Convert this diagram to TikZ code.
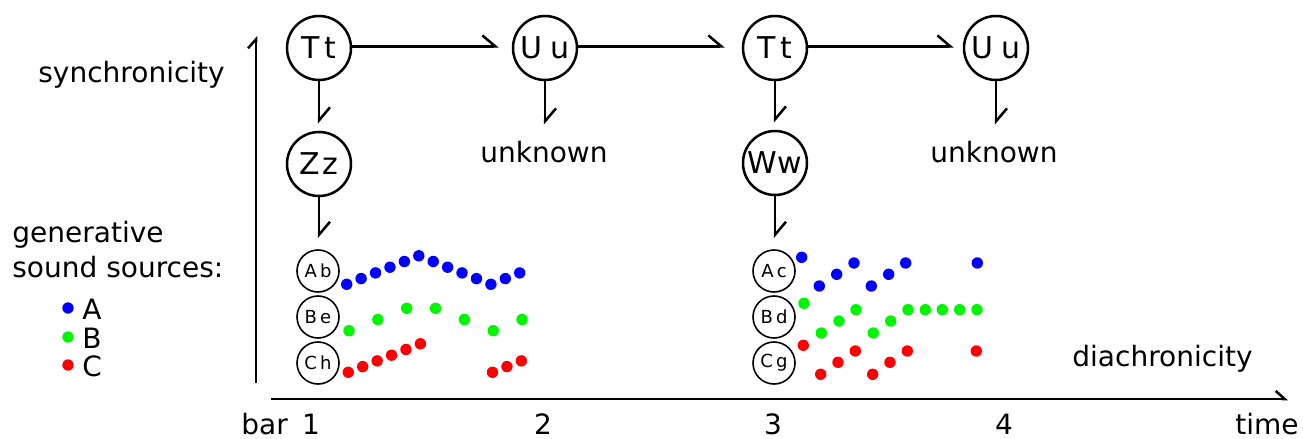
\documentclass[tikz,border=0pt]{standalone}
\usepackage{fontspec}
\setmainfont{DejaVu Sans}
\usetikzlibrary{arrows.meta}
\definecolor{srcA}{RGB}{0,0,255}
\definecolor{srcB}{RGB}{0,245,0}
\definecolor{srcC}{RGB}{255,0,0}
\newcommand{\gapsp}{\hspace{1.6pt}}
\begin{document}
\begin{tikzpicture}[x=0.5pt,y=-0.5pt,
  state/.style={circle,draw,line width=1.25pt,minimum size=32pt,inner sep=0pt,
    font=\fontsize{15}{16}\selectfont},
  source/.style={circle,draw,line width=0.8pt,minimum size=21pt,inner sep=0pt,
    font=\fontsize{9}{10}\selectfont},
  txt/.style={inner sep=0pt,font=\fontsize{14}{17}\selectfont},
  flow/.style={line width=1.25pt,-{Straight Barb[left,length=6.5pt,width=11pt]}},
  axis/.style={line width=1.25pt,-{Straight Barb[left,length=4.5pt,width=8pt]}},
  dotr/.style={radius=2.85pt}]
\useasboundingbox (0,0) rectangle (1303,439);

% axes
\coordinate (yb) at (256,383);
\coordinate (yt) at (256,36);
\draw[axis] (yb) -- (yt);
\coordinate (xl) at (271,399);
\coordinate (xr) at (1288,399);
\draw[axis] (xl) -- (xr);

% axis labels
\node[txt,anchor=base west] (sync) at (38,83) {synchronicity};
\node[txt,anchor=base west] (gen1) at (12,242) {generative};
\node[txt,anchor=base west] (gen2) at (12,277) {sound sources:};
\node[txt,anchor=base west] (dia) at (1072,366) {diachronicity};
\node[txt,anchor=base west] (bar) at (241,434) {bar};
\node[txt,anchor=base] (n1) at (311,434) {1};
\node[txt,anchor=base] (n2) at (543,434) {2};
\node[txt,anchor=base] (n3) at (773,434) {3};
\node[txt,anchor=base] (n4) at (1004,434) {4};
\node[txt,anchor=base west] (time) at (1235,434) {time};

% legend
\fill[srcA] (68,308) circle[dotr];
\fill[srcB] (68,337) circle[dotr];
\fill[srcC] (68,365) circle[dotr];
\node[txt,anchor=base west] (la) at (82,319) {A};
\node[txt,anchor=base west] (lb) at (82,348) {B};
\node[txt,anchor=base west] (lc) at (82,376) {C};

% synchronic states
\node[state] (t1) at (319,48) {T\hspace{2.5pt}t};
\node[state] (u1) at (545,48) {U\hspace{4.5pt}u};
\node[state] (t2) at (775,48) {T\hspace{2.5pt}t};
\node[state] (u2) at (996,48) {U\hspace{4.5pt}u};
\node[state] (z) at (319,164) {Z\hspace{1pt}z};
\node[state] (w) at (775,163) {Ww};
\node[txt,anchor=base] (unk1) at (544,162) {unknown};
\node[txt,anchor=base] (unk2) at (994,162) {unknown};

% sound sources
\node[source] (a1) at (318,271) {A\gapsp b};
\node[source] (b1) at (318,317) {B\gapsp e};
\node[source] (c1) at (318,363) {C\gapsp h};
\node[source] (a2) at (774,271) {A\gapsp c};
\node[source] (b2) at (774,317) {B\gapsp d};
\node[source] (c2) at (774,363) {C\gapsp g};

% connectors
\draw[flow,shorten >=6.5pt] ([yshift=0.8pt]t1.east) -- ([yshift=0.8pt]u1.west);
\draw[flow,shorten >=8.5pt] ([yshift=0.8pt]u1.east) -- ([yshift=0.8pt]t2.west);
\draw[flow,shorten >=4.5pt] ([yshift=0.8pt]t2.east) -- ([yshift=0.8pt]u2.west);
\draw[flow,shorten >=3.5pt] (t1) -- (z);
\draw[flow,shorten >=3.5pt] (t2) -- (w);
\draw[flow,shorten >=7.8pt] (u1.south) -- (u1.south |- unk1.north);
\draw[flow,shorten >=7.8pt] (u2.south) -- (u2.south |- unk2.north);
\draw[flow,shorten >=5.5pt] (z.south) -- (z.south |- a1.north);
\draw[flow,shorten >=5.5pt] (w.south) -- (w.south |- a2.north);

% source A, first excerpt
\foreach \k/\l in {0/0,1/1,2/2,3/3,4/4,5/5,6/4,7/3,8/2,9/1,10/0,11/1,12/2}
  \fill[srcA] ({346.7+14.42*\k},{284.3-5.7*\l}) circle[dotr];
% source B, first excerpt
\foreach \k/\l in {0/0,2/2,4/4,6/4,8/2,10/0,12/2}
  \fill[srcB] ({349+14.42*\k},{330.7-5.6*\l}) circle[dotr];
% source C, first excerpt
\foreach \k/\l in {0/0,1/1,2/2,3/3,4/4,5/5,10/0,11/1,12/2}
  \fill[srcC] ({348.3+14.42*\k},{372.3-5.7*\l}) circle[dotr];

% second excerpt
\foreach \p in {(801.7,257.3),(819.3,286),(836.7,274.3),(854,263),(871.3,286),
                (888.7,274.3),(905.7,263),(977.3,263)}
  \fill[srcA] \p circle[dotr];
\foreach \p in {(804,303.3),(821.3,333),(839,321),(856,309.7),(873.3,333),
                (890.7,321),(908,309.7),(925.3,309.7),(942.3,309.7),
                (959.7,309.7),(977,309.7)}
  \fill[srcB] \p circle[dotr];
\foreach \p in {(803.3,345.3),(820.7,374.3),(838,362.3),(855.3,351),
                (872.7,374.3),(890,362.3),(907.3,351),(976.3,351)}
  \fill[srcC] \p circle[dotr];
\end{tikzpicture}
\end{document}
